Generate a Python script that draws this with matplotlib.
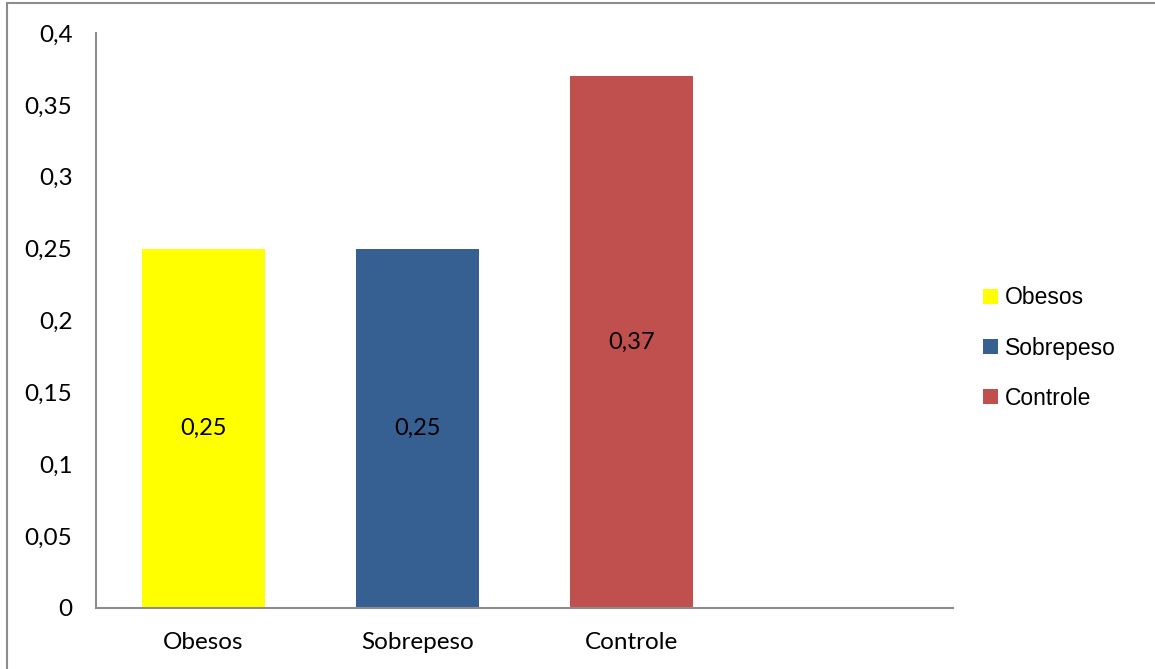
import matplotlib.pyplot as plt
from matplotlib.patches import Rectangle

# data
categories = ["Obesos", "Sobrepeso", "Controle"]
values = [0.25, 0.25, 0.37]
colors = ["#FFFF00", "#366092", "#C0504D"]
yticks = [0, 0.05, 0.1, 0.15, 0.2, 0.25, 0.3, 0.35, 0.4]
ytick_labels = ["0", "0,05", "0,1", "0,15", "0,2", "0,25", "0,3", "0,35", "0,4"]

W, H = 1155, 669
fig = plt.figure(figsize=(W / 100, H / 100), dpi=100)
ax = fig.add_axes([96 / W, (H - 608) / H, (953 - 96) / W, (608 - 33) / H])

# outer frame (only left/top edges visible)
fig.patches.append(Rectangle((7 / W, -0.1), 1.2, (H - 3) / H + 0.1,
                             transform=fig.transFigure, fill=False,
                             edgecolor="#8c8c8c", linewidth=1.5))

x = range(len(categories))
bars = []
for i, (v, c) in enumerate(zip(values, colors)):
    b = ax.bar(i, v, width=0.575, color=c, label=categories[i])
    bars.append(b)
    ax.text(i, v / 2, f"{v:.2f}".replace(".", ","), ha="center", va="center",
            fontsize=17, family="Lato")

ax.set_xlim(-0.5, 3.5)
ax.set_ylim(0, 0.4)
ax.set_xticks(list(x))
ax.set_xticklabels(categories, fontsize=17.5, family="Lato")
ax.set_yticks(yticks)
ax.set_yticklabels(ytick_labels, fontsize=17.5, family="Lato")
ax.tick_params(length=0)
ax.tick_params(axis="y", pad=17)
ax.tick_params(axis="x", pad=17)
for s in ["top", "right"]:
    ax.spines[s].set_visible(False)
for s in ["left", "bottom"]:
    ax.spines[s].set_color("#8c8c8c")
    ax.spines[s].set_linewidth(1.5)

leg = fig.legend(handles=[b[0] for b in bars], labels=categories,
                 loc="center left", bbox_to_anchor=(983 / W, (H - 348) / H),
                 frameon=False, prop={"family": "Liberation Sans", "size": 16.5},
                 handlelength=0.65, handleheight=0.65, handletextpad=0.3,
                 labelspacing=1.18, borderpad=0, borderaxespad=0)

fig.savefig("out.png", dpi=100)
